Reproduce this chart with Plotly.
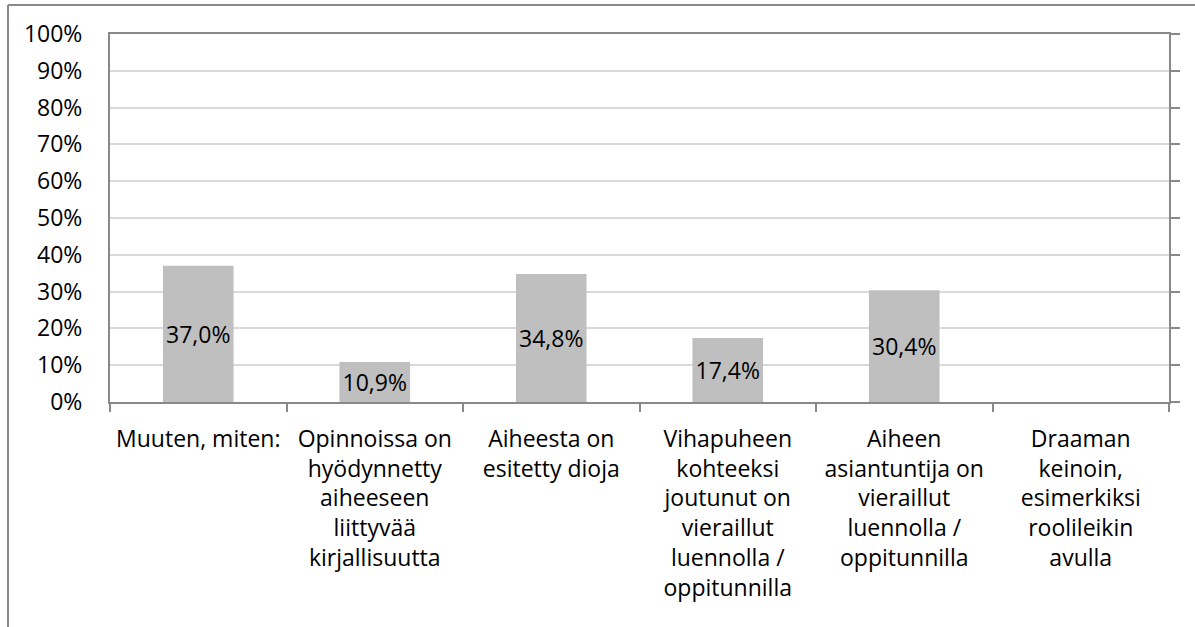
import plotly.graph_objects as go

categories = [
    "Muuten, miten:",
    "Opinnoissa on<br>hyödynnetty<br>aiheeseen<br>liittyvää<br>kirjallisuutta",
    "Aiheesta on<br>esitetty dioja",
    "Vihapuheen<br>kohteeksi<br>joutunut on<br>vieraillut<br>luennolla /<br>oppitunnilla",
    "Aiheen<br>asiantuntija on<br>vieraillut<br>luennolla /<br>oppitunnilla",
    "Draaman<br>keinoin,<br>esimerkiksi<br>roolileikin<br>avulla",
]
values = [0.370, 0.109, 0.348, 0.174, 0.304, 0.0]
ytick_vals = [i / 10 for i in range(11)]
ytick_text = [f"{i * 10}%" for i in range(11)]

labels = [(f"{v * 100:.1f}%".replace(".", ",") if v > 0 else "") for v in values]

FONT = "Open Sans"
FS = 23
GRID = "#D9D9D9"
AX = "#898989"

fig = go.Figure()
fig.add_trace(go.Bar(
    x=categories, y=values, text=labels, textposition="inside",
    insidetextanchor="middle", textangle=0, constraintext="none",
    textfont=dict(family=FONT, size=FS, color="#000000"),
    marker=dict(color="#BFBFBF", line=dict(width=0)),
    width=0.4, cliponaxis=False, hoverinfo="skip",
))
fig.add_trace(go.Scatter(x=categories, y=values, yaxis="y2", mode="none",
                         showlegend=False, hoverinfo="skip"))

W, H = 1195, 627
L, R, T, B = 110, 1195 - 1169, 34, 627 - 402
pw, ph = W - L - R, H - T - B

def px2x(px):
    return (px - L) / pw

def py2y(py):
    return (H - B - py) / ph

fig.update_layout(
    width=W, height=H, margin=dict(l=L, r=R, t=T, b=B, autoexpand=False),
    paper_bgcolor="white", plot_bgcolor="white", showlegend=False,
    font=dict(family=FONT, size=FS, color="#000000"),
    bargap=0.6,
    xaxis=dict(
        type="category", tickson="boundaries", ticks="outside", ticklen=8,
        tickwidth=1.5, tickcolor=AX, showline=True, linecolor=AX, linewidth=2,
        mirror=True, showgrid=False, ticklabelstandoff=15,
        tickfont=dict(family=FONT, size=FS, color="#000000"),
    ),
    yaxis=dict(
        range=[0, 1], tickvals=ytick_vals, ticktext=ytick_text,
        showline=True, linecolor=AX, linewidth=2, ticks="",
        showgrid=True, gridcolor=GRID, gridwidth=1.5, zeroline=False,
        ticklabelstandoff=21,
        tickfont=dict(family=FONT, size=FS, color="#000000"),
    ),
    yaxis2=dict(
        range=[0, 1], overlaying="y", side="right", tickvals=ytick_vals,
        showticklabels=False, ticks="outside", ticklen=9, tickwidth=1.5,
        tickcolor=AX, showline=True, linecolor=AX, linewidth=2,
        showgrid=False, zeroline=False,
    ),
    shapes=[
        dict(type="line", xref="paper", yref="paper",
             x0=px2x(8), x1=px2x(1195), y0=py2y(5), y1=py2y(5),
             line=dict(color=AX, width=2)),
        dict(type="line", xref="paper", yref="paper",
             x0=px2x(8), x1=px2x(8), y0=py2y(5), y1=py2y(627),
             line=dict(color=AX, width=2)),
    ],
)

fig.write_html(
    "out.html",
    config={"displayModeBar": False},
    post_script="document.body.style.margin='0';document.body.style.overflow='hidden';",
)
